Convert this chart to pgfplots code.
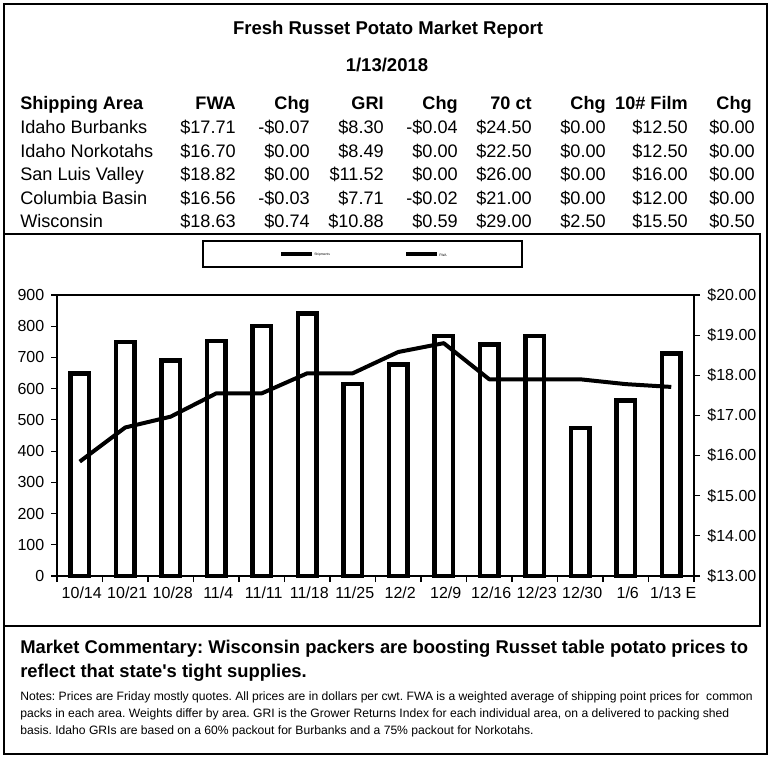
\documentclass[border=0pt]{standalone}
\usepackage{fontspec}
\setmainfont{Liberation Sans}[Ligatures=TeXOff]
\usepackage{pgfplots}
\pgfplotsset{compat=1.18}
\frenchspacing
\newcommand{\ry}{0}
\newcommand{\trow}[9]{%
 \node[tbl,anchor=base west] at (20,\ry) {#1};
 \node[tbl,anchor=base east] at (236,\ry) {#2};
 \node[tbl,anchor=base east] at (310,\ry) {#3};
 \node[tbl,anchor=base east] at (384,\ry) {#4};
 \node[tbl,anchor=base east] at (458,\ry) {#5};
 \node[tbl,anchor=base east] at (532,\ry) {#6};
 \node[tbl,anchor=base east] at (606,\ry) {#7};
 \node[tbl,anchor=base east] at (688,\ry) {#8};
 \node[tbl,anchor=base east] at (755,\ry) {#9};
}
\begin{document}
\begin{tikzpicture}[x=0.75pt,y=-0.75pt,
  tbl/.style={inner sep=0pt,font=\fontsize{13.6}{16}\selectfont},
  tblb/.style={inner sep=0pt,font=\fontsize{13.6}{16}\selectfont\bfseries}]
\path[use as bounding box] (0,0) rectangle (775,760);
% frames
\draw[line width=1.9pt] (4,4) rectangle (767,754);
\draw[line width=1.1pt] (4,234) rectangle (760,626);
% title
\node[inner sep=0pt,anchor=base,font=\fontsize{13.9}{16}\selectfont\bfseries] at (388,34.5) {Fresh Russet Potato Market Report};
\node[inner sep=0pt,anchor=base,font=\fontsize{13.9}{16}\selectfont\bfseries] at (387,71) {1/13/2018};
% table header
\node[tblb,anchor=base west] at (20,109) {Shipping Area};
\node[tblb,anchor=base east] at (236,109) {FWA};
\node[tblb,anchor=base east] at (310,109) {Chg};
\node[tblb,anchor=base east] at (384,109) {GRI};
\node[tblb,anchor=base east] at (458,109) {Chg};
\node[tblb,anchor=base east] at (532,109) {70 ct};
\node[tblb,anchor=base east] at (606,109) {Chg};
\node[tblb,anchor=base east] at (688,109) {10\# Film};
\node[tblb,anchor=base east] at (752,109) {Chg};
\renewcommand{\ry}{133.5}
\trow{Idaho Burbanks}{\$17.71}{-\$0.07}{\$8.30}{-\$0.04}{\$24.50}{\$0.00}{\$12.50}{\$0.00}
\renewcommand{\ry}{157.5}
\trow{Idaho Norkotahs}{\$16.70}{\$0.00}{\$8.49}{\$0.00}{\$22.50}{\$0.00}{\$12.50}{\$0.00}
\renewcommand{\ry}{180.5}
\trow{San Luis Valley}{\$18.82}{\$0.00}{\$11.52}{\$0.00}{\$26.00}{\$0.00}{\$16.00}{\$0.00}
\renewcommand{\ry}{204.5}
\trow{Columbia Basin}{\$16.56}{-\$0.03}{\$7.71}{-\$0.02}{\$21.00}{\$0.00}{\$12.00}{\$0.00}
\renewcommand{\ry}{227.5}
\trow{Wisconsin}{\$18.63}{\$0.74}{\$10.88}{\$0.59}{\$29.00}{\$2.50}{\$15.50}{\$0.50}
% legend
\draw[line width=1pt] (203,241) rectangle (522,267);
\draw[line width=2.4pt] (281,254) -- (312,254);
\draw[line width=2.4pt] (406,254) -- (437,254);
\node[inner sep=0pt,anchor=west,font=\fontsize{2.5}{3}\selectfont] at (314,255) {Shipments};
\node[inner sep=0pt,anchor=west,font=\fontsize{2.5}{3}\selectfont] at (439,255) {FWA};
% commentary
\node[inner sep=0pt,anchor=base west,font=\fontsize{13.8}{16}\selectfont\bfseries] at (20,653) {Market Commentary: Wisconsin packers are boosting Russet table potato prices to};
\node[inner sep=0pt,anchor=base west,font=\fontsize{13.8}{16}\selectfont\bfseries] at (20,677) {reflect that state's tight supplies.};
\node[inner sep=0pt,anchor=base west,font=\fontsize{9.1}{10}\selectfont] at (20,700) {Notes: Prices are Friday mostly quotes. All prices are in dollars per cwt. FWA is a weighted average of shipping point prices for\ \ common};
\node[inner sep=0pt,anchor=base west,font=\fontsize{9.1}{10}\selectfont] at (20,717) {packs in each area. Weights differ by area. GRI is the Grower Returns Index for each individual area, on a delivered to packing shed};
\node[inner sep=0pt,anchor=base west,font=\fontsize{9.1}{10}\selectfont] at (20,734) {basis. Idaho GRIs are based on a 60\% packout for Burbanks and a 75\% packout for Norkotahs.};
\coordinate (axSW) at (57,576);
\begin{axis}[at={(axSW)}, anchor=south west, scale only axis,
  width=477.75pt, height=210.75pt,
  xmin=-0.5, xmax=13.5, ymin=0, ymax=900,
  xtick={0,...,13},
  xticklabels={10/14,10/21,10/28,11/4,11/11,11/18,11/25,12/2,12/9,12/16,12/23,12/30,1/6,1/13 E},
  major x tick style={draw=none},
  minor xtick={-0.5,0.5,...,13.5},
  ytick={0,100,...,900},
  yticklabels={0,100,200,300,400,500,600,700,800,900},
  xtick pos=bottom, ytick pos=left,
  tick align=outside, major tick length=4.5pt, minor tick length=4.5pt,
  every tick/.style={black,line width=0.9pt},
  axis line style={line width=1.5pt},
  tick label style={font=\fontsize{12}{14}\selectfont},
  y tick label style={xshift=-1.5pt},
  x tick label style={xshift=1.5pt},
  ybar, bar width=13.9pt, bar shift=0pt,
  clip=false]
\addplot[draw=black, fill=white, line width=3.4pt] coordinates {
(0,648) (1,750) (2,690) (3,753) (4,800) (5,840) (6,615) (7,678) (8,768) (9,742) (10,768) (11,474) (12,562) (13,712)};
\end{axis}
\begin{axis}[at={(axSW)}, anchor=south west, scale only axis,
  width=477.75pt, height=210.75pt,
  xmin=-0.5, xmax=13.5, ymin=13, ymax=20,
  hide x axis, axis y line*=right,
  ytick={13,...,20},
  yticklabels={\$13.00,\$14.00,\$15.00,\$16.00,\$17.00,\$18.00,\$19.00,\$20.00},
  tick align=outside, major tick length=4.5pt,
  every tick/.style={black,line width=0.9pt},
  axis line style={line width=1.5pt},
  tick label style={font=\fontsize{12}{14}\selectfont},
  y tick label style={xshift=2pt},
  clip=false]
\addplot[black, line width=3pt, line join=round, no marks] coordinates {
(0,15.85) (1,16.70) (2,16.97) (3,17.55) (4,17.55) (5,18.05) (6,18.05) (7,18.58) (8,18.80) (9,17.90) (10,17.90) (11,17.90) (12,17.78) (13,17.71)};
\end{axis}
\end{tikzpicture}
\end{document}
